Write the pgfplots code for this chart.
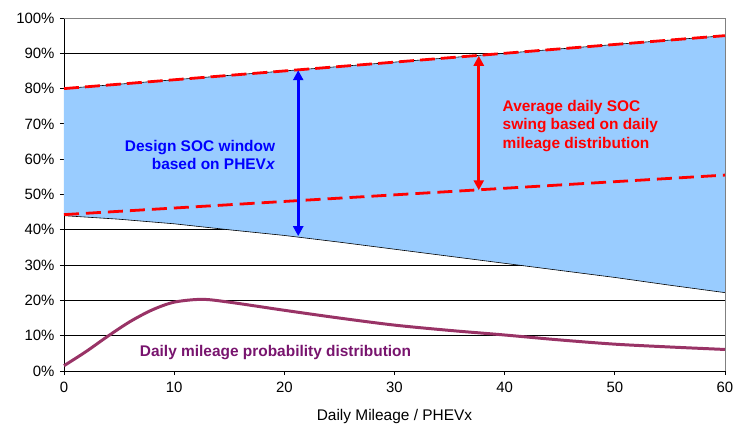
\documentclass[border=0pt]{standalone}
\usepackage{fontspec}
\setmainfont{Liberation Sans}
\usepackage{pgfplots}
\pgfplotsset{compat=1.18}
\usetikzlibrary{arrows.meta}

\definecolor{socfill}{RGB}{153,204,255}
\definecolor{distline}{RGB}{153,51,102}
\definecolor{disttext}{RGB}{120,20,110}

\begin{document}
\begin{tikzpicture}
\begin{axis}[
    at={(0,0)}, anchor=south west,
    scale only axis,
    width=661bp, height=353bp,
    xmin=0, xmax=60, ymin=0, ymax=100,
    xtick={0,10,...,60},
    ytick={0,10,...,100},
    yticklabel={\pgfmathprintnumber{\tick}\%},
    ymajorgrids=true,
    grid style={black, line width=0.6pt},
    axis x line*=bottom, axis y line*=left,
    axis line style={black, line width=0.8pt, -},
    tick style={black, line width=0.8pt},
    tick align=outside,
    major tick length=4bp,
    ticklabel style={font=\fontsize{15}{17}\selectfont},
    xticklabel style={yshift=-4bp},
    yticklabel style={xshift=-2bp},
    /pgf/number format/assume math mode=true,
    xlabel={Daily Mileage / PHEVx},
    xlabel style={font=\fontsize{15.5}{17}\selectfont, at={(axis description cs:0.5,0)},
        anchor=center, yshift=-46bp},
    clip=false,
]

% SOC window between upper line and lower curve
\addplot[fill=socfill, draw=none] coordinates {
    (0,80) (60,95)
    (60,22.2) (55,24.3) (50,26.5) (45,28.5) (40,30.5) (35,32.5)
    (30,34.5) (25,36.5) (20,38.4) (15,40) (10,41.7) (5,43) (0,44)
} -- cycle;
\addplot[black, line width=0.6pt] coordinates {(0,80) (60,95)};
\addplot[black, line width=0.6pt] coordinates {
    (0,44) (5,43) (10,41.7) (15,40) (20,38.4) (25,36.5) (30,34.5)
    (35,32.5) (40,30.5) (45,28.5) (50,26.5) (55,24.3) (60,22.2)
};

% plot area border (top, right)
\draw[gray, line width=0.8pt] (rel axis cs:0,1) -- (rel axis cs:1,1) -- (rel axis cs:1,0);

% red dashed lines
\addplot[red, line width=2.8pt, dash pattern=on 15bp off 6bp] coordinates {(0,80) (60,95)};
\addplot[red, line width=2.8pt, dash pattern=on 15bp off 7bp] coordinates {(0,44.3) (60,55.5)};

% arrows
\addplot[blue, line width=2.8pt, {Triangle[length=10bp,width=10bp]}-{Triangle[length=10bp,width=10bp]}]
    coordinates {(21.26,38.2) (21.26,85.2)};
\addplot[red, line width=2.8pt, {Triangle[length=10bp,width=10bp]}-{Triangle[length=10bp,width=10bp]}]
    coordinates {(37.65,51.2) (37.65,89.3)};

% daily mileage probability distribution
\addplot[distline, line width=3pt, smooth] coordinates {
    (0,1.5) (2,5.5) (4,9.9) (6,14) (8,17.3) (10,19.5) (12.5,20.3)
    (15,19.5) (20,17.2) (25,15) (30,13) (35,11.5) (40,10.2)
    (45,8.8) (50,7.6) (55,6.8) (60,6.1)
};

\node[blue, font=\bfseries\fontsize{15.5}{18.4}\selectfont, align=right]
    at (axis cs:12.35,61.2) {Design SOC window\\based on PHEV\textit{x}};
\node[red, font=\bfseries\fontsize{15.5}{18.5}\selectfont, align=left, anchor=west]
    at (axis cs:39.5,69.4) {Average daily SOC\\swing based on daily\\mileage distribution};
\node[disttext, font=\bfseries\fontsize{15.5}{17}\selectfont]
    at (axis cs:19.2,5.2) {Daily mileage probability distribution};
\end{axis}
\pgfresetboundingbox
\path (-64bp,-54bp) rectangle (676bp,371bp);
\end{tikzpicture}
\end{document}
